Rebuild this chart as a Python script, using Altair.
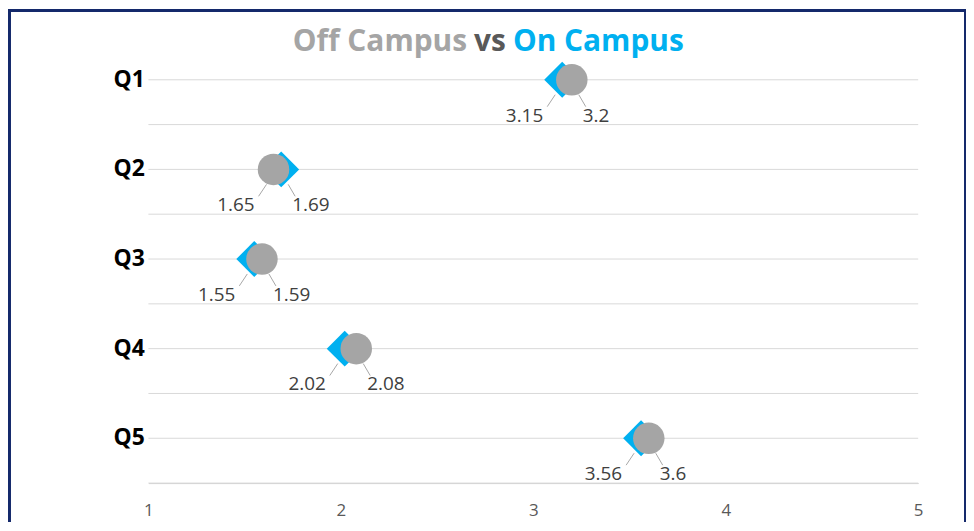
import altair as alt
import pandas as pd

# ---- data ----
questions = ["Q1", "Q2", "Q3", "Q4", "Q5"]
off_campus = [3.2, 1.65, 1.59, 2.08, 3.6]
on_campus = [3.15, 1.69, 1.55, 2.02, 3.56]
x_ticks = [1, 2, 3, 4, 5]
title_parts = ["Off Campus", "vs", "On Campus"]

df = pd.DataFrame({"q": questions, "off": off_campus, "on": on_campus})

W, H = 773, 450
PAD_L, PAD_T, PAD_R, PAD_B = 141, 26, 48, 39
FONT = "Open Sans"
GRID = "#D9D9D9"
BLUE = "#00B0F0"
GREY = "#A5A5A5"
NAVY = "#14296B"

x_scale = alt.Scale(domain=[1, 5], nice=False, zero=False)
y_scale = alt.Scale(domain=questions, paddingInner=0, paddingOuter=0)

x_axis = alt.Axis(values=x_ticks, grid=False, ticks=False, domain=True,
                  domainColor="#D0D0D0", labelColor="#595959", labelFontSize=17,
                  labelFont=FONT, labelPadding=20, labelFlush=False,
                  title=None, format="d")
y_axis = alt.Axis(grid=False, ticks=False, domain=False, labelFontSize=23,
                  labelFontWeight="bold", labelColor="#000000", labelFont=FONT,
                  labelPadding=4, title=None)

y_enc = alt.Y("q:N", scale=y_scale, axis=y_axis, sort=questions)

base = alt.Chart(df).transform_calculate(
    lo="min(datum.off, datum.on)", hi="max(datum.off, datum.on)"
)

grid_mid = base.mark_rule(color=GRID, strokeWidth=1).encode(
    y=y_enc, x=alt.value(0), x2=alt.value(W)
)
grid_edge = base.mark_rule(color=GRID, strokeWidth=1).encode(
    y=alt.Y("q:N", scale=y_scale, axis=y_axis, sort=questions, bandPosition=1),
    x=alt.value(0), x2=alt.value(W)
)

lead_left = base.mark_rule(color="#A6A6A6", strokeWidth=1,
                           xOffset=-7, yOffset=15, x2Offset=-15, y2Offset=27).encode(
    x=alt.X("lo:Q", scale=x_scale, axis=x_axis), x2="lo:Q",
    y=y_enc, y2=alt.Y2("q:N")
)
lead_right = base.mark_rule(color="#A6A6A6", strokeWidth=1,
                            xOffset=7, yOffset=15, x2Offset=14, y2Offset=27).encode(
    x=alt.X("hi:Q", scale=x_scale, axis=x_axis), x2="hi:Q",
    y=y_enc, y2=alt.Y2("q:N")
)

diamonds = base.mark_point(shape="diamond", filled=True, size=1300,
                           color=BLUE, opacity=1, strokeWidth=0).encode(
    x=alt.X("on:Q", scale=x_scale, axis=x_axis), y=y_enc
)
circles = base.mark_point(shape="circle", filled=True, size=1000,
                          color=GREY, opacity=1, strokeWidth=0).encode(
    x=alt.X("off:Q", scale=x_scale, axis=x_axis), y=y_enc
)

lab_left = base.mark_text(align="right", baseline="middle", dx=-19, dy=36,
                          fontSize=19, font=FONT, color="#404040").encode(
    x=alt.X("lo:Q", scale=x_scale, axis=x_axis), y=y_enc,
    text=alt.Text("lo:Q", format="~g")
)
lab_right = base.mark_text(align="left", baseline="middle", dx=11, dy=36,
                           fontSize=19, font=FONT, color="#404040").encode(
    x=alt.X("hi:Q", scale=x_scale, axis=x_axis), y=y_enc,
    text=alt.Text("hi:Q", format="~g")
)


def title_piece(i, color, align, xpos):
    return alt.Chart(pd.DataFrame({"t": [title_parts[i]]})).mark_text(
        align=align, baseline="alphabetic", fontSize=30, fontWeight="bold",
        font=FONT, color=color
    ).encode(text="t:N", x=alt.value(xpos), y=alt.value(16))


t1 = title_piece(0, GREY, "right", 320)
t2 = title_piece(1, "#595959", "center", 343)
t3 = title_piece(2, BLUE, "left", 366)

one = pd.DataFrame({"k": [0]})
frame_top = alt.Chart(one).mark_rule(color=NAVY, strokeWidth=3).encode(
    x=alt.value(-PAD_L), x2=alt.value(W + PAD_R), y=alt.value(-PAD_T + 1.5)
)
frame_left = alt.Chart(one).mark_rule(color=NAVY, strokeWidth=3).encode(
    x=alt.value(-PAD_L + 1.5), y=alt.value(-PAD_T), y2=alt.value(H + PAD_B)
)
frame_right = alt.Chart(one).mark_rule(color=NAVY, strokeWidth=2).encode(
    x=alt.value(W + PAD_R - 1), y=alt.value(-PAD_T), y2=alt.value(H + PAD_B)
)

chart = alt.layer(
    grid_mid, grid_edge, lead_left, lead_right, diamonds, circles,
    lab_left, lab_right, t1, t2, t3, frame_top, frame_left, frame_right
).properties(
    width=W, height=H,
    padding={"left": PAD_L, "top": PAD_T, "right": PAD_R, "bottom": PAD_B},
    autosize=alt.AutoSizeParams(type="none"),
    background="white",
).configure_view(stroke=None)

chart.save("out.html", embed_options={"renderer": "svg", "actions": False})
